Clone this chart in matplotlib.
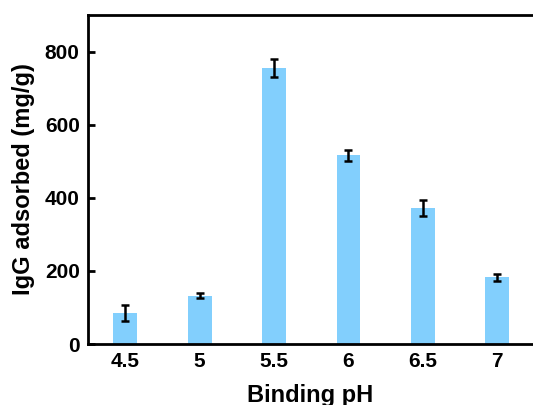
import numpy as np
import matplotlib
matplotlib.use('Agg')
import matplotlib.pyplot as plt

ph_labels = ['4.5', '5', '5.5', '6', '6.5', '7']
adsorbed = [85, 132, 755, 516, 372, 182]
errors = [21, 7, 25, 16, 23, 10]

plt.rcParams['font.family'] = ['Liberation Sans', 'DejaVu Sans']
plt.rcParams['font.weight'] = 'bold'

fig = plt.figure(figsize=(5.33, 4.05), dpi=100)
ax = fig.add_axes([88/533, 61/405, 1 - 88/533, 329/405])

x = np.arange(len(ph_labels))
ax.bar(x, adsorbed, width=0.32, color='#82cffd', zorder=2)
ax.errorbar(x, adsorbed, yerr=errors, fmt='none', ecolor='black',
            elinewidth=1.8, capsize=2.6, capthick=1.8, zorder=3)

ax.set_xlim(-0.5, 5.48)
ax.set_ylim(0, 900)
ax.set_xticks(x)
ax.set_xticklabels(ph_labels)
ax.set_yticks([0, 200, 400, 600, 800])
ax.tick_params(direction='in', width=2, length=5, labelsize=15, pad=6)
for lab in ax.get_xticklabels() + ax.get_yticklabels():
    lab.set_fontweight('bold')

for side in ['left', 'bottom', 'top']:
    ax.spines[side].set_linewidth(2)
ax.spines['right'].set_visible(False)

ax.set_xlabel('Binding pH', fontsize=17, fontweight='bold', labelpad=9)
ax.set_ylabel('IgG adsorbed (mg/g)', fontsize=17, fontweight='bold', labelpad=7)

fig.savefig('out.png', dpi=100)
